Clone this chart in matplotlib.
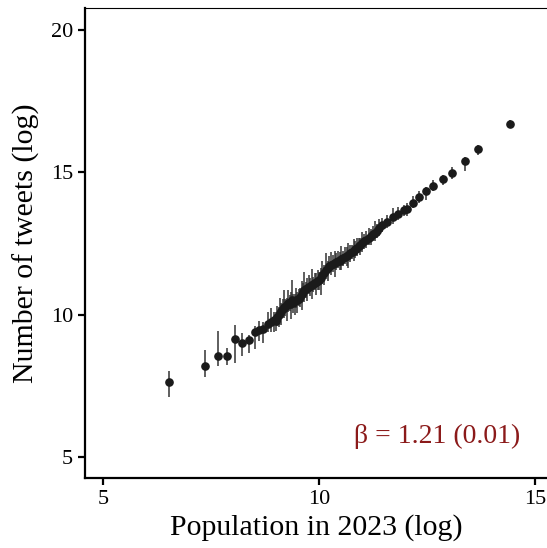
import numpy as np
import matplotlib.pyplot as plt

plt.rcParams['font.family'] = ['Liberation Serif', 'DejaVu Serif']

# log population (x), log tweets (y), lower / upper error
pop = [6.53, 7.35, 7.66, 7.87, 8.06, 8.22, 8.38, 8.52, 8.62, 8.71, 8.81, 8.90, 8.95,
       9.00, 9.04, 9.07, 9.10, 9.13, 9.16, 9.19, 9.22, 9.26, 9.29, 9.32, 9.35, 9.38,
       9.41, 9.44, 9.47, 9.50, 9.54, 9.57, 9.60, 9.63, 9.66, 9.70, 9.73, 9.76, 9.80,
       9.83, 9.87, 9.90, 9.94, 9.97, 10.00, 10.04, 10.08, 10.12, 10.16, 10.20, 10.24,
       10.28, 10.32, 10.36, 10.40, 10.44, 10.48, 10.52, 10.56, 10.60, 10.64, 10.68,
       10.72, 10.76, 10.80, 10.84, 10.88, 10.92, 10.96, 11.00, 11.05, 11.10, 11.15,
       11.20, 11.25, 11.30, 11.35, 11.40,
       11.45, 11.57, 11.72, 11.84, 11.97, 12.05, 12.18, 12.31, 12.48, 12.65, 12.87,
       13.09, 13.37, 13.69, 14.43]
tweets = [7.65, 8.20, 8.53, 8.53, 9.16, 9.02, 9.10, 9.39, 9.47, 9.50, 9.68, 9.73, 9.80,
          9.78, 9.90, 10.00, 10.05, 10.12, 10.20, 10.28, 10.25, 10.33, 10.40, 10.38, 10.45, 10.50,
          10.42, 10.48, 10.52, 10.50, 10.55, 10.62, 10.72, 10.80, 10.85, 10.90, 10.93, 10.98, 11.00,
          11.05, 11.08, 11.12, 11.15, 11.18, 11.20, 11.30, 11.38, 11.45, 11.55, 11.62, 11.70,
          11.75, 11.78, 11.82, 11.85, 11.88, 11.90, 11.95, 12.00, 12.03, 12.06, 12.10,
          12.15, 12.20, 12.25, 12.30, 12.35, 12.40, 12.45, 12.50, 12.57, 12.63, 12.68,
          12.75, 12.82, 12.88, 12.95, 13.05,
          13.16, 13.24, 13.43, 13.53, 13.66, 13.72, 13.93, 14.13, 14.33, 14.53, 14.75,
          14.98, 15.38, 15.80, 16.70]
err_lo = [0.55, 0.38, 0.34, 0.31, 0.85, 0.46, 0.45, 0.60, 0.40, 0.50, 0.30, 0.35, 0.40,
          0.35, 0.30, 0.45, 0.30, 0.50, 0.25, 0.40, 0.30, 0.55, 0.30, 0.25, 0.60, 0.30,
          0.35, 0.50, 0.30, 0.45, 0.25, 0.35, 0.55, 0.30, 0.40, 0.30, 0.45, 0.25, 0.35,
          0.50, 0.30, 0.25, 0.45, 0.30, 0.35, 0.60, 0.30, 0.40, 0.30, 0.45, 0.25,
          0.35, 0.30, 0.50, 0.30, 0.25, 0.35, 0.40, 0.30, 0.25, 0.35, 0.45,
          0.30, 0.25, 0.35, 0.30, 0.30, 0.25, 0.35, 0.30, 0.25, 0.30, 0.25,
          0.30, 0.25, 0.30, 0.25, 0.30,
          0.25, 0.20, 0.25, 0.20, 0.20, 0.25, 0.20, 0.20, 0.30, 0.20, 0.20,
          0.20, 0.35, 0.20, 0.15]
err_hi = [0.36, 0.57, 0.88, 0.28, 0.46, 0.34, 0.20, 0.20, 0.30, 0.25, 0.40, 0.50, 0.30,
          0.30, 0.40, 0.25, 0.55, 0.30, 0.35, 0.60, 0.30, 0.25, 0.45, 0.30, 0.35, 0.70,
          0.30, 0.25, 0.40, 0.30, 0.35, 0.30, 0.45, 0.30, 0.65, 0.25, 0.35, 0.40, 0.30,
          0.55, 0.25, 0.35, 0.30, 0.40, 0.30, 0.35, 0.50, 0.30, 0.60, 0.25, 0.35,
          0.45, 0.30, 0.40, 0.30, 0.35, 0.30, 0.45, 0.25, 0.35, 0.30, 0.40,
          0.30, 0.25, 0.40, 0.30, 0.35, 0.30, 0.25, 0.40, 0.25, 0.30, 0.35,
          0.25, 0.30, 0.40, 0.25, 0.30,
          0.25, 0.25, 0.30, 0.25, 0.20, 0.20, 0.25, 0.20, 0.15, 0.20, 0.15,
          0.20, 0.15, 0.15, 0.15]

beta_txt = "β = 1.21 (0.01)"

fig = plt.figure(figsize=(5.47, 5.48), dpi=100)
ax = fig.add_axes([0.1554, 0.1277, 0.8446, 0.8577])

ax.errorbar(pop, tweets, yerr=[err_lo, err_hi], fmt='none', ecolor='#333333',
            elinewidth=1.1, zorder=2)
ax.plot(pop, tweets, 'o', color='#1a1a1a', markersize=5.2, zorder=3)

ax.text(14.65, 5.72, beta_txt, color='#8b1a1a', fontsize=20, ha='right', va='center')

ax.set_xlim(4.583, 15.28)
ax.set_ylim(4.26, 20.77)
ax.set_xticks([5, 10, 15])
ax.set_yticks([5, 10, 15, 20])
ax.set_xlabel("Population in 2023 (log)", fontsize=21.5, labelpad=4)
ax.set_ylabel("Number of tweets (log)", fontsize=21.5, labelpad=8)

ax.spines['right'].set_visible(False)
ax.spines['left'].set_linewidth(1.6)
ax.spines['bottom'].set_linewidth(1.6)
ax.spines['top'].set_linewidth(0.8)
ax.tick_params(axis='both', width=1.6, length=5, labelsize=16, colors='black')

fig.savefig("out.png", dpi=100)
plt.close()
